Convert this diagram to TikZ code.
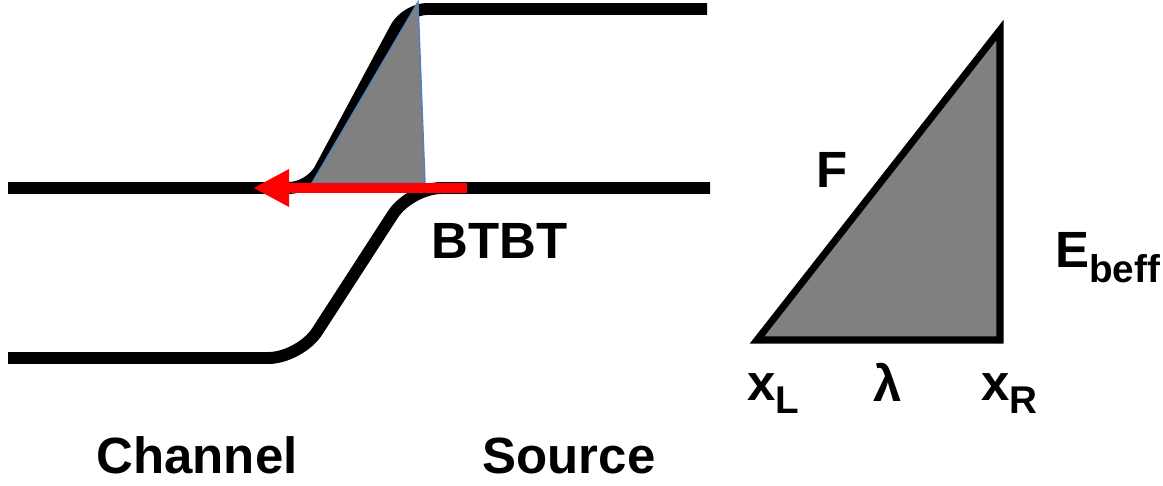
\documentclass[tikz,border=0pt]{standalone}
\usepackage{fontspec}
\setmainfont{Liberation Sans}
\usetikzlibrary{arrows.meta}
\definecolor{shade}{HTML}{808080}
\definecolor{edgeblue}{HTML}{4F81BD}
\newcommand{\subtxt}[2]{\raisebox{#1}{\fontsize{22}{22}\selectfont #2}}
\begin{document}
\begin{tikzpicture}[x=0.02cm,y=-0.02cm,
  band/.style={line width=6.8pt},
  lbl/.style={font=\fontsize{29}{30}\selectfont\bfseries, inner sep=0pt},
  tri/.style={fill=shade, draw=black, line width=4pt, line join=miter},
  wedge/.style={fill=shade, draw=edgeblue, line width=0.8pt},
  tunnel/.style={red, line width=6pt, -{Triangle[length=20.5pt, width=20pt]}}
]
\useasboundingbox (0,0) rectangle (1163,486);
% conduction band
\draw[band, rounded corners=12pt] (8,188) -- (310,188) -- (406,9) -- (707,9);
% valence band
\draw[band, rounded corners=18pt] (8,358) -- (300,358) -- (410,188) -- (710,188);
% tunnelling wedge
\fill[wedge] (312,183) -- (418,2) -- (425,183) -- cycle;
% BTBT arrow
\coordinate (arrS) at (467,188);
\coordinate (arrE) at (253,188);
\draw[tunnel] (arrS) -- (arrE);
% right triangle
\draw[tri] (757,340) -- (1000,30) -- (1000,340) -- cycle;
% labels
\node[lbl, anchor=base] (btbt) at (499.5,258) {BTBT};
\node[lbl, anchor=base] (chan) at (197,473) {Channel};
\node[lbl, anchor=base] (src) at (569,473) {Source};
\node[lbl, anchor=base west] (F) at (816,188) {F};
\node[lbl, anchor=base west] (E) at (1055,268) {E\subtxt{-8pt}{beff}};
\node[lbl, anchor=base west] (xL) at (747,400) {x\subtxt{-7.4pt}{L}};
\node[lbl, anchor=base] (lam) at (888,401) {λ};
\node[lbl, anchor=base west] (xR) at (981,400) {x\subtxt{-7.4pt}{R}};
\end{tikzpicture}
\end{document}
